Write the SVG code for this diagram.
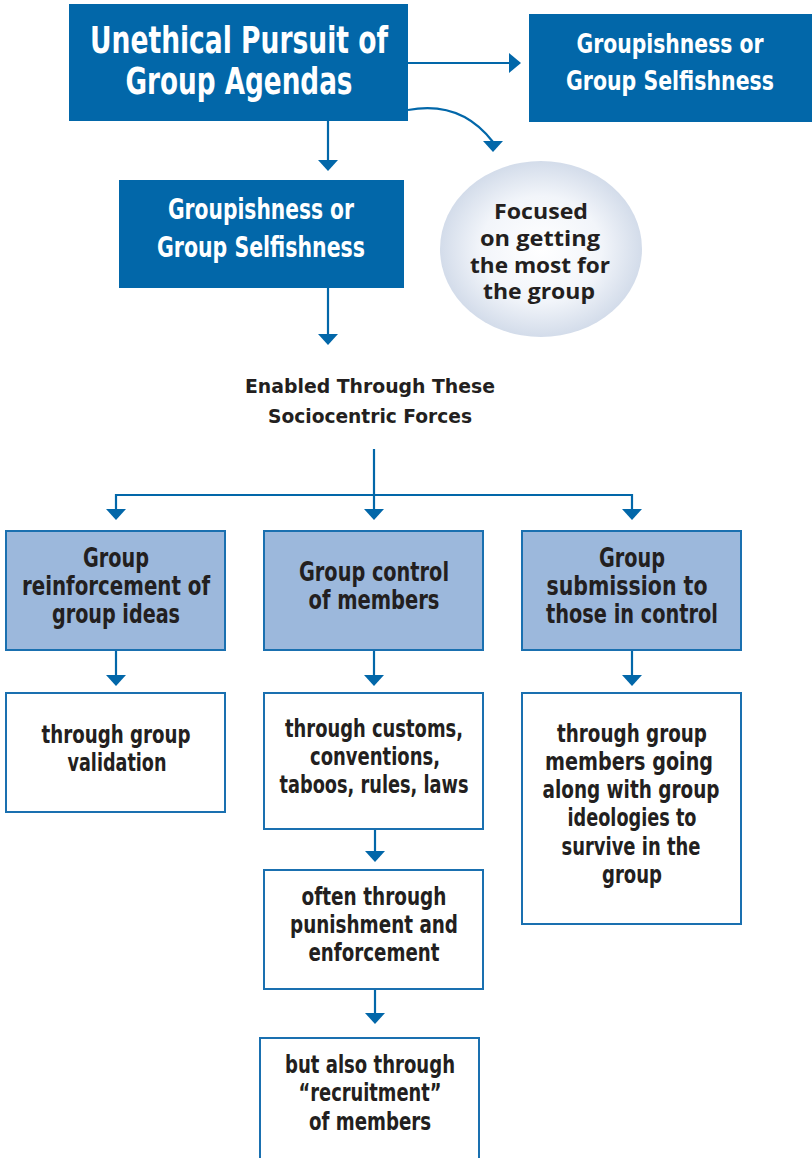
<svg xmlns="http://www.w3.org/2000/svg" width="812" height="1158" viewBox="0 0 812 1158">
  <style>
    .dark { fill: #0267a9; }
    .light { fill: #9cb8dc; stroke: #1a70b0; stroke-width: 2; }
    .plain { fill: #ffffff; stroke: #1a70b0; stroke-width: 2; }
    .cond { font-family: "DejaVu Sans Condensed", "DejaVu Sans", "Liberation Sans", sans-serif; font-weight: bold; text-anchor: middle; }
    .wt { fill: #ffffff; }
    .bk { fill: #231f20; }
    .big { font-size: 38px; }
    .head { font-size: 28px; }
    .head-r { font-size: 26px; }
    .mid { font-size: 26px; }
    .box { font-size: 24px; }
    .sm { font-size: 19px; }
    .round { font-family: "Open Sans", "Liberation Sans", sans-serif; font-weight: bold; font-size: 21px; text-anchor: middle; fill: #231f20; }
    .wire { fill: none; stroke: #0267a9; stroke-width: 2.2; }
    .head-tip { fill: #0267a9; }
  </style>
  <defs>
    <radialGradient id="bubble" cx="0.5" cy="0.5" r="0.5">
      <stop offset="0" stop-color="#ffffff"/>
      <stop offset="0.6" stop-color="#f2f5fa"/>
      <stop offset="1" stop-color="#d3dcea"/>
    </radialGradient>
  </defs>

  <!-- connectors and their arrowheads -->
  <g id="connectors">
    <path class="wire" d="M408,63 H511"/>
    <path class="head-tip" d="M509,53 L521,63 L509,73 Z"/>
    <path class="wire" d="M328,121 V160"/>
    <path class="head-tip" d="M318,160 L338,160 L328,171 Z"/>
    <path class="wire" d="M408,110 C440,104 470,112 493,142"/>
    <path class="head-tip" d="M483,141 L503,141 L493,152 Z"/>
    <path class="wire" d="M328,288 V334"/>
    <path class="head-tip" d="M318,334 L338,334 L328,345 Z"/>
    <path class="wire" d="M374,449 V509"/>
    <path class="wire" d="M116,509 V495 H632 V509"/>
    <path class="head-tip" d="M106,509 L126,509 L116,520 Z"/>
    <path class="head-tip" d="M364,509 L384,509 L374,520 Z"/>
    <path class="head-tip" d="M622,509 L642,509 L632,520 Z"/>
    <path class="wire" d="M116,650 V675"/>
    <path class="head-tip" d="M106,675 L126,675 L116,686 Z"/>
    <path class="wire" d="M374,650 V675"/>
    <path class="head-tip" d="M364,675 L384,675 L374,686 Z"/>
    <path class="wire" d="M632,650 V675"/>
    <path class="head-tip" d="M622,675 L642,675 L632,686 Z"/>
    <path class="wire" d="M375,829 V851"/>
    <path class="head-tip" d="M365,851 L385,851 L375,862 Z"/>
    <path class="wire" d="M375,989 V1013"/>
    <path class="head-tip" d="M365,1013 L385,1013 L375,1024 Z"/>
  </g>

  <g id="agendas">
    <rect class="dark" x="69" y="4" width="339" height="117"/>
    <text class="cond wt big" x="239" y="53" textLength="298" lengthAdjust="spacingAndGlyphs">Unethical Pursuit of</text>
    <text class="cond wt big" x="239" y="94" textLength="227" lengthAdjust="spacingAndGlyphs">Group Agendas</text>
  </g>

  <g id="selfishness-right">
    <rect class="dark" x="529" y="14" width="283" height="108"/>
    <text class="cond wt head-r" x="670" y="53" textLength="187" lengthAdjust="spacingAndGlyphs">Groupishness or</text>
    <text class="cond wt head-r" x="670" y="90" textLength="208" lengthAdjust="spacingAndGlyphs">Group Selfishness</text>
  </g>

  <g id="selfishness">
    <rect class="dark" x="119" y="180" width="285" height="108"/>
    <text class="cond wt head" x="261" y="219" textLength="186" lengthAdjust="spacingAndGlyphs">Groupishness or</text>
    <text class="cond wt head" x="261" y="257" textLength="208" lengthAdjust="spacingAndGlyphs">Group Selfishness</text>
  </g>

  <g id="focused">
    <ellipse cx="541" cy="249" rx="101" ry="88" fill="url(#bubble)"/>
    <text class="round" x="541" y="219" textLength="94" lengthAdjust="spacingAndGlyphs">Focused</text>
    <text class="round" x="540" y="246" textLength="120" lengthAdjust="spacingAndGlyphs">on getting</text>
    <text class="round" x="540" y="273" textLength="140" lengthAdjust="spacingAndGlyphs">the most for</text>
    <text class="round" x="539" y="299" textLength="112" lengthAdjust="spacingAndGlyphs">the group</text>
  </g>

  <g id="forces">
    <text class="cond bk sm" x="370" y="393" textLength="250" lengthAdjust="spacingAndGlyphs">Enabled Through These</text>
    <text class="cond bk sm" x="370" y="423" textLength="204" lengthAdjust="spacingAndGlyphs">Sociocentric Forces</text>
  </g>

  <g id="reinforcement">
    <rect class="light" x="6" y="531" width="219" height="119"/>
    <text class="cond bk mid" x="116" y="567" textLength="66" lengthAdjust="spacingAndGlyphs">Group</text>
    <text class="cond bk mid" x="116" y="595" textLength="188" lengthAdjust="spacingAndGlyphs">reinforcement of</text>
    <text class="cond bk mid" x="116" y="623" textLength="128" lengthAdjust="spacingAndGlyphs">group ideas</text>
  </g>

  <g id="control">
    <rect class="light" x="264" y="531" width="219" height="119"/>
    <text class="cond bk mid" x="374" y="581" textLength="150" lengthAdjust="spacingAndGlyphs">Group control</text>
    <text class="cond bk mid" x="374" y="609" textLength="131" lengthAdjust="spacingAndGlyphs">of members</text>
  </g>

  <g id="submission">
    <rect class="light" x="522" y="531" width="219" height="119"/>
    <text class="cond bk mid" x="632" y="567" textLength="66" lengthAdjust="spacingAndGlyphs">Group</text>
    <text class="cond bk mid" x="627" y="595" textLength="161" lengthAdjust="spacingAndGlyphs">submission to</text>
    <text class="cond bk mid" x="632" y="623" textLength="172" lengthAdjust="spacingAndGlyphs">those in control</text>
  </g>

  <g id="validation">
    <rect class="plain" x="6" y="693" width="219" height="119"/>
    <text class="cond bk box" x="116" y="743" textLength="149" lengthAdjust="spacingAndGlyphs">through group</text>
    <text class="cond bk box" x="117" y="771" textLength="99" lengthAdjust="spacingAndGlyphs">validation</text>
  </g>

  <g id="customs">
    <rect class="plain" x="264" y="693" width="219" height="136"/>
    <text class="cond bk box" x="374" y="737" textLength="178" lengthAdjust="spacingAndGlyphs">through customs,</text>
    <text class="cond bk box" x="375" y="765" textLength="130" lengthAdjust="spacingAndGlyphs">conventions,</text>
    <text class="cond bk box" x="374" y="793" textLength="189" lengthAdjust="spacingAndGlyphs">taboos, rules, laws</text>
  </g>

  <g id="punishment">
    <rect class="plain" x="264" y="870" width="219" height="119"/>
    <text class="cond bk box" x="374" y="905" textLength="145" lengthAdjust="spacingAndGlyphs">often through</text>
    <text class="cond bk box" x="374" y="933" textLength="168" lengthAdjust="spacingAndGlyphs">punishment and</text>
    <text class="cond bk box" x="374" y="961" textLength="131" lengthAdjust="spacingAndGlyphs">enforcement</text>
  </g>

  <g id="recruitment">
    <rect class="plain" x="260" y="1038" width="219" height="130"/>
    <text class="cond bk box" x="370" y="1073" textLength="170" lengthAdjust="spacingAndGlyphs">but also through</text>
    <text class="cond bk box" x="370" y="1101" textLength="143" lengthAdjust="spacingAndGlyphs">“recruitment”</text>
    <text class="cond bk box" x="370" y="1130" textLength="122" lengthAdjust="spacingAndGlyphs">of members</text>
  </g>

  <g id="going-along">
    <rect class="plain" x="522" y="693" width="219" height="231"/>
    <text class="cond bk box" x="632" y="742" textLength="150" lengthAdjust="spacingAndGlyphs">through group</text>
    <text class="cond bk box" x="629" y="770" textLength="168" lengthAdjust="spacingAndGlyphs">members going</text>
    <text class="cond bk box" x="631" y="798" textLength="177" lengthAdjust="spacingAndGlyphs">along with group</text>
    <text class="cond bk box" x="632" y="826" textLength="129" lengthAdjust="spacingAndGlyphs">ideologies to</text>
    <text class="cond bk box" x="631" y="855" textLength="139" lengthAdjust="spacingAndGlyphs">survive in the</text>
    <text class="cond bk box" x="632" y="883" textLength="60" lengthAdjust="spacingAndGlyphs">group</text>
  </g>
</svg>
